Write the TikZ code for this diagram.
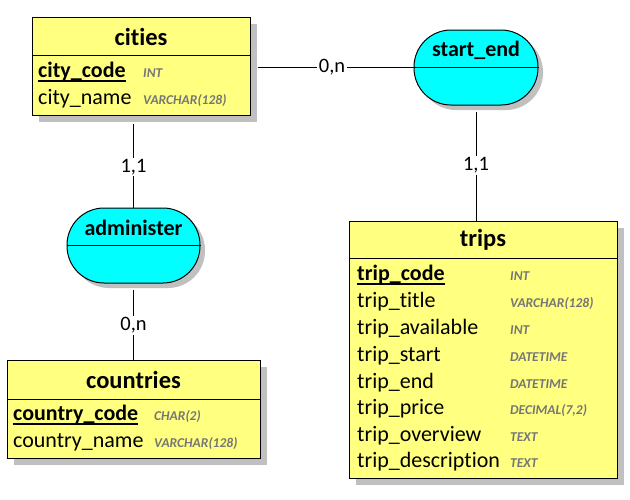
\documentclass[tikz,border=0pt]{standalone}
\usepackage{fontspec}
\setmainfont{Carlito}[Ligatures={NoCommon}]
\usetikzlibrary{shadows}
\definecolor{entyellow}{RGB}{255,255,128}
\definecolor{relcyan}{RGB}{0,255,255}
\definecolor{shadowgray}{RGB}{192,192,192}
\definecolor{typegray}{RGB}{118,118,118}
\begin{document}
\begin{tikzpicture}[x=1pt,y=-1pt,
  entity/.style={draw=black, line width=1pt, fill=entyellow, inner sep=0pt,
    drop shadow={shadow xshift=7pt, shadow yshift=-7pt, fill=shadowgray, opacity=1}},
  relation/.style={draw=black, line width=1pt, fill=relcyan, inner sep=0pt, rounded corners=37pt,
    drop shadow={shadow xshift=5pt, shadow yshift=-5pt, fill=shadowgray, opacity=1}},
  divider/.style={draw=black, line width=1pt},
  etitle/.style={inner sep=0pt, font=\fontsize{24.5}{28}\selectfont\bfseries},
  rtitle/.style={inner sep=0pt, font=\fontsize{22}{26}\selectfont\bfseries},
  attr/.style={anchor=base west, inner sep=0pt, font=\fontsize{22}{26}\selectfont},
  pkattr/.style={attr, font=\fontsize{22}{26}\selectfont\bfseries},
  atype/.style={anchor=base west, inner sep=0pt, text=typegray, font=\fontsize{13.5}{16}\selectfont\bfseries\itshape},
  pkline/.style={draw=black, line width=1.3pt},
  link/.style={draw=black, line width=1pt},
  card/.style={fill=white, inner sep=1.5pt, font=\fontsize{20.5}{24}\selectfont}
]
\useasboundingbox (0,0) rectangle (630,499);

% ---------- entities ----------
\node[entity, minimum width=218pt, minimum height=98pt] (cities) at (141,66) {};
\draw[divider] (32,55) -- (250,55);
\node[etitle] (citiesT) at (141,37) {cities};
\node[pkattr] (c1) at (38,77) {city\_code};
\node[atype] (c1t) at (143,77) {INT};
\node[attr] (c2) at (38,104) {city\_name};
\node[atype] (c2t) at (143,104) {VARCHAR(128)};
\draw[pkline] ([yshift=-4pt]c1.base west) -- ([yshift=-4pt]c1.base east);

\node[entity, minimum width=253pt, minimum height=98pt] (countries) at (133.5,409) {};
\draw[divider] (7,399) -- (260,399);
\node[etitle] (countriesT) at (133.5,380) {countries};
\node[pkattr] (k1) at (13,420) {country\_code};
\node[atype] (k1t) at (154,420) {CHAR(2)};
\node[attr] (k2) at (13,447) {country\_name};
\node[atype] (k2t) at (154,447) {VARCHAR(128)};
\draw[pkline] ([yshift=-4pt]k1.base west) -- ([yshift=-4pt]k1.base east);

\node[entity, minimum width=268pt, minimum height=257pt] (trips) at (483,349.5) {};
\draw[divider] (349,258) -- (617,258);
\node[etitle] (tripsT) at (483,240) {trips};
\node[pkattr] (t1) at (357,280) {trip\_code};
\node[atype] (t1t) at (510,280) {INT};
\node[attr] (t2) at (357,307) {trip\_title};
\node[atype] (t2t) at (510,307) {VARCHAR(128)};
\node[attr] (t3) at (357,334) {trip\_available};
\node[atype] (t3t) at (510,334) {INT};
\node[attr] (t4) at (357,361) {trip\_start};
\node[atype] (t4t) at (510,361) {DATETIME};
\node[attr] (t5) at (357,388) {trip\_end};
\node[atype] (t5t) at (510,388) {DATETIME};
\node[attr] (t6) at (357,414.5) {trip\_price};
\node[atype] (t6t) at (510,414.5) {DECIMAL(7,2)};
\node[attr] (t7) at (357,441) {trip\_overview};
\node[atype] (t7t) at (510,441) {TEXT};
\node[attr] (t8) at (357,467.5) {trip\_description};
\node[atype] (t8t) at (510,467.5) {TEXT};
\draw[pkline] ([yshift=-4pt]t1.base west) -- ([yshift=-4pt]t1.base east);

% ---------- relationships ----------
\node[relation, minimum width=124pt, minimum height=75pt] (startend) at (476,67.5) {};
\draw[divider] (startend.west) -- (startend.east);
\node[rtitle] (startendT) at (476,50) {start\_end};

\node[relation, minimum width=133pt, minimum height=75pt] (administer) at (133.5,245.5) {};
\draw[divider] (administer.west) -- (administer.east);
\node[rtitle] (administerT) at (133.5,228) {administer};

% ---------- connectors ----------
\draw[link, shorten <=7pt] (cities.east |- startend.west) -- node[card] {0,n} (startend.west);
\draw[link, shorten <=6pt] (startend.south) -- node[card, pos=0.52] {1,1} (startend.south |- trips.north);
\draw[link, shorten <=8pt] (administer.north |- cities.south) -- node[card, pos=0.56] {1,1} (administer.north);
\draw[link, shorten <=6pt] (administer.south) -- node[card, pos=0.55] {0,n} (countries.north);
\end{tikzpicture}
\end{document}
